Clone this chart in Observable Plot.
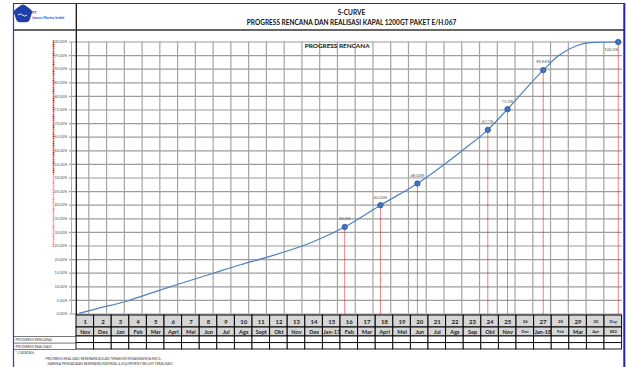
<!DOCTYPE html>
<html><head><meta charset="utf-8">
<script src="https://cdn.jsdelivr.net/npm/d3@7"></script>
<script src="https://cdn.jsdelivr.net/npm/@observablehq/plot@0.6"></script>
<style>body{margin:0;background:#fff}#c{width:626px;height:367px;overflow:hidden}</style>
</head><body><div id="c"></div>
<script>
// ---- data ----
const monthNo = ["1","2","3","4","5","6","7","8","9","10","11","12","13","14","15","16","17","18","19","20","21","22","23","24","25","26","27","28","29","30","Day"];
const monthName = ["Nov","Des","Jan","Feb","Mar","Aprl","Mei","Jun","Jul","Ags","Sept","Okt","Nov","Des","Jan-17","Feb","Mar","Aprl","Mei","Jun","Jul","Ags","Sep","Okt","Nov","Dec","Jan-18","Feb","Mar","Apr","882"];
const curveMonth = [0.17, 1.18, 2.78, 4.66, 5.91, 7.78, 9.32, 10.84, 13.38, 15.24, 17.27, 19.37, 22.0, 23.37, 24.49, 26.52, 27.4, 28.45, 29.2, 30.78];
const curvePct   = [0.3, 2.0, 4.6, 8.6, 11.2, 15.0, 18.1, 20.9, 26.4, 32.0, 40.0, 48.0, 60.5, 67.7, 75.3, 89.66, 95.0, 98.7, 99.8, 100];
const pointMonth = [15.24, 17.27, 19.37, 23.37, 24.49, 26.52, 30.78];
const pointPct   = [32.0, 40.0, 48.0, 67.7, 75.3, 89.66, 100.0];
const pointLabel = ["32,0%", "40,00%", "48,00%", "67,7%", "75,3%", "89,66%", "100,0%"];
const yTicks = [0,5,10,15,20,25,30,35,40,45,50,55,60,65,70,75,80,85,90,95,100];
const chartTitle = "PROGRESS RENCANA";
const title1 = "S-CURVE";
const title2 = "PROGRESS RENCANA DAN REALISASI KAPAL 1200GT PAKET E/H.067";
const rowLabels = ["PROGRESS RENCANA", "PROGRESS REALISASI"];
const notes = ["*) CATATAN :", "- PROGRESS REALISASI BEBERAPA BULAN TERAKHIR KENAIKANNYA KECIL,", "KARENA PENGADAAN BEBERAPA MATERIAL & EQUIPMENT BELUM TERALISASI"];
const companyLines = ["PT.", "Janata Marina Indah"];

// ---- layout ----
const W = 626, H = 367;
const L = 76, R = 621.6, B = 313.5, T = 41.5;
const X = p => (p - L) / (R - L) * 31;    // pixel -> month units
const Y = p => (B - p) / (B - T) * 100;   // pixel -> percent units
const fmtPct = d => d.toFixed(2).replace(".", ",") + "%";
const curve = curveMonth.map((m, i) => ({m, v: curvePct[i]}));
const pts = pointMonth.map((m, i) => ({m, v: pointPct[i], t: pointLabel[i]}));
const cols = d3.range(31);
const small = new Set([25, 27, 29, 30]);
const gridX = d3.range(30).map(k => X(88.3 + 17.76 * k));
const font = "Lato, 'Open Sans', sans-serif";

// logo outline (decorative)
const cx = 22.5, cy = 13.5;
const logo = d3.range(10).map(k => {
  const a = -Math.PI / 2 + k * Math.PI / 5;
  const r = k % 2 ? 7.6 : 8.8;
  return {x: X(cx + r * Math.cos(a)), y: Y(cy + r * Math.sin(a))};
});

const chart = Plot.plot({
  width: W, height: H,
  marginLeft: L, marginRight: W - R, marginTop: T, marginBottom: H - B,
  x: {domain: [0, 31], axis: null},
  y: {domain: [0, 100]},
  style: {fontFamily: font, background: "white", overflow: "visible"},
  marks: [
    // gridlines
    Plot.ruleY(yTicks, {x1: X(69), x2: X(622), stroke: "#9c9c9c", strokeWidth: 1.2}),
    Plot.ruleX(gridX, {y1: 0, y2: 100, stroke: "#a4a4a4", strokeWidth: 1.2}),
    Plot.ruleX([X(71)], {y1: 0, y2: 100, stroke: "#b0b0b0", strokeWidth: 1}),
    // red dotted marker on left
    Plot.ruleX([X(53)], {y1: Y(173), y2: 100.3, stroke: "#d00000", strokeWidth: 1.6, strokeDasharray: "1.2,0.6"}),
    Plot.ruleX([X(53)], {y1: Y(247), y2: Y(173), stroke: "#f07878", strokeWidth: 1.6, strokeDasharray: "1.2,0.6"}),
    // y axis
    Plot.axisY(yTicks, {tickSize: 0, tickPadding: 9.3, tickFormat: fmtPct, fontSize: 3.8, fill: "#595959"}),
    // chart title
    Plot.text([chartTitle], {x: X(336.7), y: Y(45.5), text: d => d, fontSize: 6.4, fontWeight: "bold", fill: "#111"}),
    // drop lines
    Plot.ruleX(pts, {x: "m", y1: 0, y2: "v", stroke: "#e00000", strokeWidth: 1, strokeDasharray: "1,1"}),
    // S-curve
    Plot.line(curve, {x: "m", y: "v", stroke: "#4f81bd", strokeWidth: 1.2, curve: "monotone-x"}),
    Plot.dot(pts, {x: "m", y: "v", r: 2.7, fill: "#4472c4", stroke: "#2f5597", strokeWidth: 0.8}),
    Plot.text(pts.slice(0, 6), {x: "m", y: "v", text: "t", dy: -8, fontSize: 4.2, fill: "#595959"}),
    Plot.text(pts.slice(6), {x: "m", y: "v", text: "t", dy: 8, dx: -7, fontSize: 4.2, fill: "#595959"}),
    // axis line / header separators
    Plot.ruleX([X(75.8)], {y1: Y(315), y2: Y(3), stroke: "#000", strokeWidth: 1.2}),
    Plot.ruleY([Y(29.5)], {x1: X(13), x2: X(624), stroke: "#333", strokeWidth: 1.6}),
    // logo
    Plot.line(logo, {x: "x", y: "y", fill: "#1c3fa8", stroke: "#1c3fa8", strokeWidth: 1.2, curve: "cardinal-closed"}),
    Plot.text(companyLines, {x: X(31.5), y: (d, i) => Y(12 + 5 * i), text: d => d, textAnchor: "start", fontSize: 3.6, fontWeight: "bold", fill: "#2a4cc0"}),
    // header titles
    Plot.text([title1], {x: X(351), y: Y(12), text: d => d, fontSize: 6.5, fontWeight: "bold", fill: "#111"}),
    Plot.text([title2], {x: X(351), y: Y(22), text: d => d, fontSize: 6.5, fontWeight: "bold", fill: "#111"}),
    // table header
    Plot.rect(cols, {x1: i => i, x2: i => i + 1, y1: () => Y(327), y2: () => Y(315), fill: "#d6d6d6", stroke: "#000", strokeWidth: 1}),
    Plot.rect(cols, {x1: i => i, x2: i => i + 1, y1: () => Y(336), y2: () => Y(327), fill: "#d6d6d6", stroke: "#000", strokeWidth: 1}),
    Plot.text(cols.filter(i => !small.has(i)), {x: i => i + 0.5, y: () => Y(321.3), text: i => monthNo[i], fontSize: 6, fontWeight: "bold", fill: "#222"}),
    Plot.text(cols.filter(i => small.has(i)), {x: i => i + 0.5, y: () => Y(321.3), text: i => monthNo[i], fontSize: 4.3, fontWeight: "bold", fill: "#333"}),
    Plot.text(cols.filter(i => !small.has(i)), {x: i => i + 0.5, y: () => Y(331.6), text: i => monthName[i], fontSize: 5.6, fontWeight: "bold", fill: "#222"}),
    Plot.text(cols.filter(i => small.has(i)), {x: i => i + 0.5, y: () => Y(331.6), text: i => monthName[i], fontSize: 4.2, fontWeight: "bold", fill: "#333"}),
    // table body rows
    Plot.rect(cols, {x1: i => i, x2: i => i + 1, y1: () => Y(342.6), y2: () => Y(336), fill: "white", stroke: "#000", strokeWidth: 0.9}),
    Plot.rect(cols, {x1: i => i, x2: i => i + 1, y1: () => Y(349), y2: () => Y(342.6), fill: "white", stroke: "#000", strokeWidth: 0.9}),
    Plot.ruleY([Y(336), Y(342.6), Y(349)], {x1: X(13), x2: X(76), stroke: "#555", strokeWidth: 0.8}),
    Plot.text(rowLabels, {x: X(15), y: (d, i) => Y(339.3 + 6.6 * i), text: d => d, textAnchor: "start", fontSize: 3.6, fill: "#444"}),
    Plot.text(notes, {x: (d, i) => X([15, 43, 47][i]), y: (d, i) => Y(352.6 + 5.6 * i), text: d => d, textAnchor: "start", fontSize: 3.4, fill: "#444"}),
    // outer blue frame
    Plot.ruleY([Y(3)], {x1: X(13), x2: X(624), stroke: "#2a2a9a", strokeWidth: 1.2}),
    Plot.ruleX([X(13)], {y1: Y(367), y2: Y(3), stroke: "#3a3aa8", strokeWidth: 1.2}),
    Plot.ruleX([X(623.8)], {y1: Y(367), y2: Y(3), stroke: "#1f1fc0", strokeWidth: 2})
  ]
});
document.getElementById("c").appendChild(chart);
// white wave on the logo
d3.select(chart).append("path").attr("d", `M${cx-4.5},${cy+1.5} q2.2,-2.2 4.5,0 t4.5,0`).attr("stroke", "white").attr("stroke-width", 0.9).attr("fill", "none");
</script>
</body></html>
